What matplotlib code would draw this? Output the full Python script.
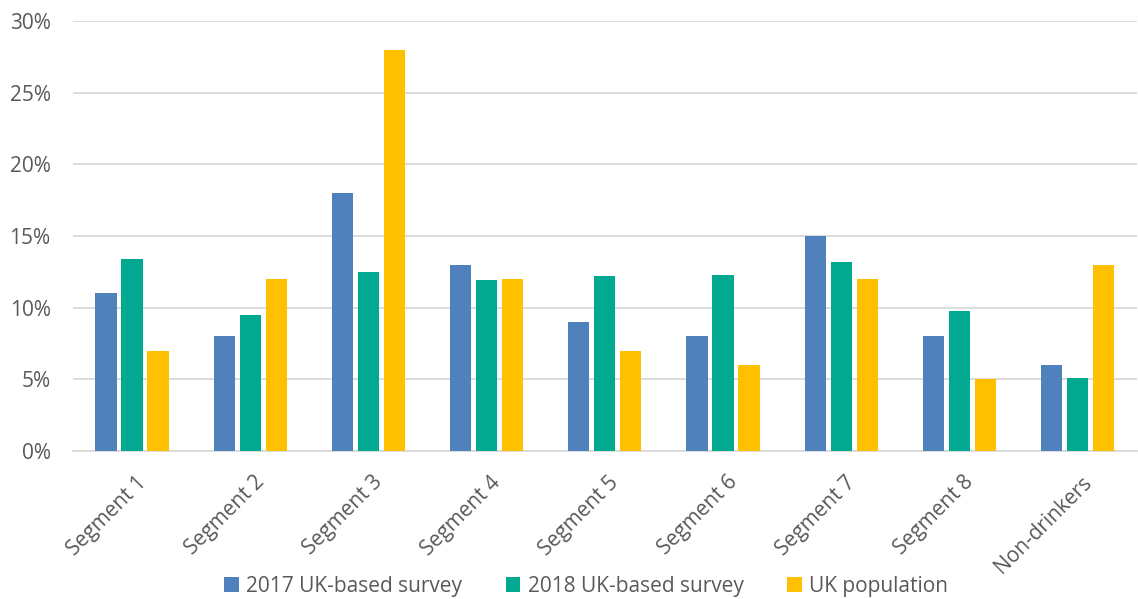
import numpy as np
import matplotlib.pyplot as plt
from matplotlib.ticker import PercentFormatter

# share of each segment (%)
segments = ['Segment 1', 'Segment 2', 'Segment 3', 'Segment 4', 'Segment 5',
            'Segment 6', 'Segment 7', 'Segment 8', 'Non-drinkers']
survey_2017 = [11.0, 8.0, 18.0, 13.0, 9.0, 8.0, 15.0, 8.0, 6.0]
survey_2018 = [13.4, 9.5, 12.5, 11.9, 12.2, 12.3, 13.2, 9.8, 5.1]
uk_population = [7.0, 12.0, 28.0, 12.0, 7.0, 6.0, 12.0, 5.0, 13.0]

series = [
    ('2017 UK-based survey', survey_2017, '#4F81BD'),
    ('2018 UK-based survey', survey_2018, '#00A98F'),
    ('UK population', uk_population, '#FFC000'),
]

plt.rcParams['font.family'] = ['Open Sans', 'DejaVu Sans']
txt = '#595959'

fig = plt.figure(figsize=(11.38, 5.99), dpi=100)
ax = fig.add_axes([0.064, 0.247, 0.935, 0.718])

x = np.arange(len(segments))
w = 0.18
step = 0.22
for i, (name, vals, col) in enumerate(series):
    ax.bar(x + (i - 1) * step, vals, width=w, color=col, label=name, zorder=3)

ax.set_ylim(0, 30)
ax.set_xlim(-0.5, len(segments) - 0.5)
ax.set_yticks(np.arange(0, 31, 5))
ax.yaxis.set_major_formatter(PercentFormatter(decimals=0))
ax.grid(axis='y', color='#D9D9D9', linewidth=1.3, zorder=0)
for s in ['top', 'right', 'left']:
    ax.spines[s].set_visible(False)
ax.spines['bottom'].set_color('#D9D9D9')
ax.spines['bottom'].set_linewidth(1.3)
ax.tick_params(length=0, labelsize=15, colors=txt)
ax.tick_params(axis='y', pad=16)
ax.tick_params(axis='x', pad=15)
ax.set_xticks(x + 0.03)
ax.set_xticklabels(segments, rotation=45, ha='right', rotation_mode='anchor')

fig.legend(loc='lower center', bbox_to_anchor=(0.515, -0.028), ncol=3, frameon=False,
           fontsize=15, labelcolor=txt, handlelength=0.7, handleheight=0.7,
           handletextpad=0.35, columnspacing=2.1)

fig.savefig('out.png', dpi=100)
